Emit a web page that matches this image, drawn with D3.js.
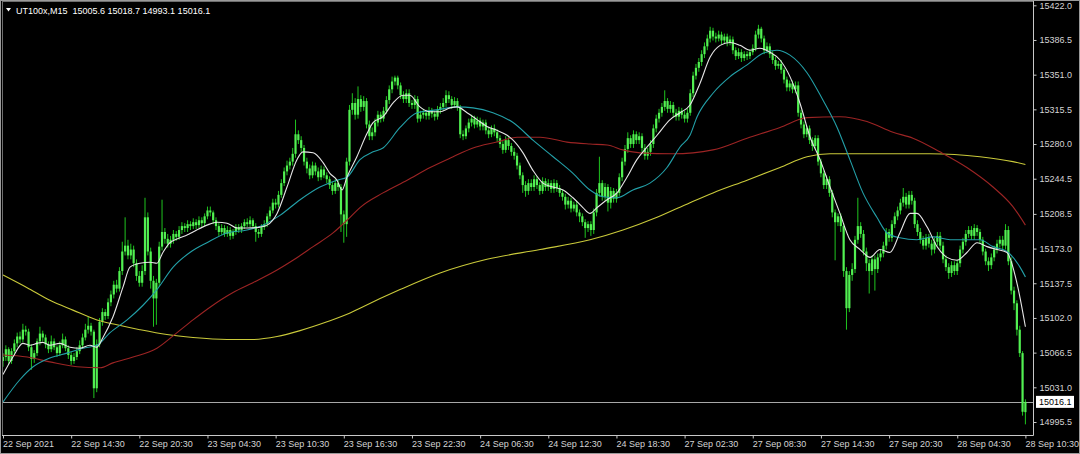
<!DOCTYPE html>
<html><head><meta charset="utf-8">
<script src="https://cdn.jsdelivr.net/npm/d3@7"></script>
<style>html,body{margin:0;padding:0;background:#000;overflow:hidden}svg{display:block}</style>
</head><body>
<svg id="chart" width="1080" height="454"></svg>
<script>
const symbolTitle = "UT100x,M15";
const lastOHLC = [15005.6, 15018.7, 14993.1, 15016.1];
const currentPrice = 15016.1;

const opens = [
15058,15062,15070,15058,15068,15076,15083,15080,15090,15088,
15072,15060,15066,15078,15086,15082,15075,15070,15078,15072,
15066,15074,15080,15071,15064,15058,15062,15068,15074,15082,
15090,15094,15088,15030,15075,15098,15108,15104,15118,15126,
15136,15132,15150,15170,15176,15166,15172,15158,15145,15138,
15150,15205,15170,15140,15122,15138,15175,15190,15183,15178,
15182,15188,15185,15192,15196,15194,15198,15196,15200,15197,
15202,15199,15206,15212,15210,15202,15196,15190,15194,15188,
15192,15186,15190,15195,15192,15196,15200,15198,15202,15196,
15190,15188,15195,15198,15206,15212,15220,15218,15228,15240,
15252,15258,15262,15270,15290,15284,15276,15262,15255,15248,
15258,15252,15246,15254,15248,15244,15238,15232,15240,15236,
15208,15198,15262,15315,15322,15310,15326,15318,15324,15300,
15288,15292,15302,15310,15306,15314,15325,15336,15344,15348,
15340,15330,15326,15332,15322,15320,15326,15306,15310,15312,
15309,15314,15311,15308,15315,15318,15322,15330,15326,15320,
15324,15318,15290,15288,15296,15302,15306,15300,15304,15298,
15302,15294,15290,15296,15292,15286,15280,15274,15284,15278,
15272,15268,15258,15248,15238,15232,15240,15236,15244,15238,
15232,15242,15236,15240,15234,15240,15235,15230,15226,15218,
15222,15214,15218,15210,15206,15200,15194,15198,15192,15210,
15230,15240,15226,15236,15220,15232,15224,15230,15246,15262,
15275,15286,15280,15290,15284,15288,15276,15268,15272,15280,
15296,15306,15312,15318,15324,15316,15320,15312,15308,15314,
15310,15306,15312,15332,15350,15358,15364,15372,15380,15388,
15396,15390,15388,15392,15386,15390,15384,15387,15376,15370,
15374,15368,15372,15370,15374,15378,15392,15398,15388,15376,
15380,15372,15366,15360,15362,15356,15346,15338,15342,15336,
15340,15312,15300,15290,15296,15284,15278,15286,15262,15250,
15238,15244,15230,15210,15200,15206,15196,15150,15112,15146,
15152,15182,15196,15188,15170,15158,15150,15162,15152,15164,
15168,15176,15190,15184,15198,15206,15212,15220,15226,15218,
15228,15222,15198,15190,15182,15176,15184,15178,15172,15180,
15186,15176,15162,15154,15148,15156,15150,15158,15172,15180,
15188,15192,15186,15194,15190,15182,15170,15160,15156,15164,
15172,15178,15182,15176,15192,15160,15130,15117,15090,15066,15005.6
];
const highs = [
15066,15074,15072,15071,15080,15087,15088,15096,15094,15091,
15075,15069,15081,15093,15089,15085,15078,15084,15081,15074,
15078,15086,15083,15074,15067,15066,15072,15079,15086,15096,
15103,15097,15090,15080,15102,15112,15111,15122,15130,15140,
15141,15154,15180,15205,15182,15178,15176,15162,15150,15156,
15225,15210,15174,15145,15142,15180,15223,15194,15188,15186,
15192,15191,15196,15200,15199,15202,15201,15204,15203,15206,
15205,15209,15216,15216,15212,15205,15199,15198,15197,15196,
15195,15193,15198,15198,15199,15203,15204,15206,15204,15199,
15193,15198,15202,15209,15216,15224,15224,15232,15244,15256,
15263,15266,15276,15305,15294,15288,15279,15266,15259,15262,
15261,15256,15258,15257,15251,15247,15241,15244,15243,15239,
15212,15266,15320,15332,15327,15339,15330,15329,15327,15304,
15297,15306,15314,15313,15318,15329,15340,15349,15350,15350,
15343,15334,15336,15336,15325,15330,15329,15314,15316,15315,
15318,15317,15314,15319,15322,15327,15335,15334,15329,15328,
15327,15320,15294,15299,15306,15310,15309,15308,15307,15305,
15305,15297,15299,15300,15295,15289,15283,15288,15287,15281,
15276,15271,15261,15251,15242,15244,15244,15248,15247,15241,
15246,15245,15244,15243,15244,15243,15238,15233,15229,15226,
15225,15221,15222,15213,15209,15203,15201,15201,15214,15234,
15267,15243,15240,15239,15236,15235,15234,15250,15266,15279,
15292,15289,15294,15293,15292,15291,15280,15276,15284,15300,
15310,15316,15322,15335,15327,15324,15323,15316,15318,15317,
15314,15316,15336,15354,15362,15368,15376,15384,15392,15400,
15399,15394,15396,15395,15393,15393,15391,15390,15379,15378,
15377,15375,15375,15377,15382,15396,15402,15400,15391,15384,
15383,15375,15369,15365,15366,15358,15349,15345,15345,15344,
15344,15315,15303,15299,15299,15287,15289,15289,15265,15253,
15248,15247,15233,15213,15209,15209,15199,15154,15150,15158,
15186,15225,15200,15192,15174,15162,15166,15166,15168,15172,
15180,15194,15193,15202,15210,15216,15224,15235,15230,15232,
15232,15225,15202,15194,15186,15188,15188,15182,15184,15190,
15190,15180,15166,15158,15160,15160,15162,15176,15184,15192,
15196,15196,15198,15197,15193,15185,15173,15164,15168,15176,
15182,15186,15186,15198,15196,15164,15134,15120,15094,15068,15018.7
];
const lows = [
15052,15058,15054,15055,15064,15072,15076,15077,15084,15068,
15049,15056,15063,15074,15078,15071,15066,15067,15069,15062,
15063,15071,15068,15060,15054,15055,15059,15065,15071,15079,
15086,15084,15020,15026,15072,15094,15100,15101,15114,15122,
15128,15129,15146,15166,15162,15162,15154,15140,15134,15134,
15146,15166,15132,15093,15095,15134,15171,15178,15174,15174,
15178,15181,15182,15188,15190,15190,15192,15193,15193,15194,
15195,15196,15203,15206,15198,15192,15186,15187,15185,15185,
15182,15183,15187,15189,15189,15193,15195,15195,15193,15180,
15184,15185,15192,15195,15203,15209,15214,15215,15225,15237,
15248,15254,15258,15266,15280,15272,15258,15250,15244,15245,
15248,15242,15243,15245,15240,15234,15228,15229,15232,15190,
15179,15185,15258,15310,15305,15306,15313,15314,15296,15284,
15284,15288,15298,15302,15303,15311,15321,15332,15340,15336,
15326,15322,15322,15318,15316,15316,15302,15303,15306,15305,
15305,15307,15304,15305,15311,15314,15318,15322,15316,15317,
15314,15286,15284,15285,15292,15298,15296,15297,15294,15294,
15290,15286,15287,15288,15282,15276,15270,15271,15274,15268,
15264,15254,15244,15230,15226,15228,15232,15232,15234,15228,
15229,15232,15232,15230,15230,15231,15226,15222,15213,15214,
15210,15211,15206,15200,15196,15184,15190,15186,15188,15206,
15226,15222,15222,15211,15214,15220,15220,15227,15242,15258,
15271,15276,15276,15280,15280,15272,15264,15264,15268,15276,
15292,15302,15308,15314,15312,15312,15308,15304,15304,15306,
15302,15302,15309,15328,15346,15354,15360,15368,15376,15384,
15386,15384,15385,15382,15383,15380,15381,15372,15366,15367,
15364,15365,15366,15367,15371,15375,15388,15384,15372,15373,
15368,15362,15356,15357,15352,15342,15334,15334,15332,15332,
15308,15296,15286,15287,15280,15273,15275,15258,15246,15234,
15234,15226,15205,15161,15196,15190,15144,15090,15108,15140,
15148,15178,15184,15166,15150,15127,15146,15130,15148,15160,
15164,15172,15180,15180,15194,15202,15208,15216,15214,15214,
15218,15194,15186,15178,15172,15172,15174,15166,15168,15176,
15172,15158,15150,15142,15144,15146,15146,15154,15168,15176,
15184,15182,15182,15186,15178,15166,15156,15150,15152,15160,
15168,15174,15172,15172,15156,15126,15110,15084,15062,15002,14993.1
];
const closes = [
15062,15070,15058,15068,15076,15083,15080,15090,15088,15072,
15060,15066,15078,15086,15082,15075,15070,15078,15072,15066,
15074,15080,15071,15064,15058,15062,15068,15074,15082,15090,
15094,15088,15030,15075,15098,15108,15104,15118,15126,15136,
15132,15150,15170,15176,15166,15172,15158,15145,15138,15150,
15205,15170,15140,15122,15138,15175,15190,15183,15178,15182,
15188,15185,15192,15196,15194,15198,15196,15200,15197,15202,
15199,15206,15212,15210,15202,15196,15190,15194,15188,15192,
15186,15190,15195,15192,15196,15200,15198,15202,15196,15190,
15188,15195,15198,15206,15212,15220,15218,15228,15240,15252,
15258,15262,15270,15290,15284,15276,15262,15255,15248,15258,
15252,15246,15254,15248,15244,15238,15232,15240,15236,15208,
15198,15262,15315,15322,15310,15326,15318,15324,15300,15288,
15292,15302,15310,15306,15314,15325,15336,15344,15348,15340,
15330,15326,15332,15322,15320,15326,15306,15310,15312,15309,
15314,15311,15308,15315,15318,15322,15330,15326,15320,15324,
15318,15290,15288,15296,15302,15306,15300,15304,15298,15302,
15294,15290,15296,15292,15286,15280,15274,15284,15278,15272,
15268,15258,15248,15238,15232,15240,15236,15244,15238,15232,
15242,15236,15240,15234,15240,15235,15230,15226,15218,15222,
15214,15218,15210,15206,15200,15194,15198,15192,15210,15230,
15240,15226,15236,15220,15232,15224,15230,15246,15262,15275,
15286,15280,15290,15284,15288,15276,15268,15272,15280,15296,
15306,15312,15318,15324,15316,15320,15312,15308,15314,15310,
15306,15312,15332,15350,15358,15364,15372,15380,15388,15396,
15390,15388,15392,15386,15390,15384,15387,15376,15370,15374,
15368,15372,15370,15374,15378,15392,15398,15388,15376,15380,
15372,15366,15360,15362,15356,15346,15338,15342,15336,15340,
15312,15300,15290,15296,15284,15278,15286,15262,15250,15238,
15244,15230,15210,15200,15206,15196,15150,15112,15146,15152,
15182,15196,15188,15170,15158,15150,15162,15152,15164,15168,
15176,15190,15184,15198,15206,15212,15220,15226,15218,15228,
15222,15198,15190,15182,15176,15184,15178,15172,15180,15186,
15176,15162,15154,15148,15156,15150,15158,15172,15180,15188,
15192,15186,15194,15190,15182,15170,15160,15156,15164,15172,
15178,15182,15176,15192,15160,15130,15117,15090,15066,15006,15016.1
];

// moving averages: [bar index, price]
const maFast = [[0,15044],[3.5,15062],[7,15076],[9.5,15074],[12,15076],[14,15077],[16.5,15074],[20,15076],[23.6,15072],[27,15071],[30.6,15074],[33,15072],[35.2,15082],[38.7,15103],[42.3,15134],[44.7,15154],[48.2,15158],[51.8,15159],[54.2,15158],[56.3,15169],[58.8,15179],[62.3,15184],[64.8,15187],[66.9,15190],[71.8,15197],[75.4,15200],[78.9,15199],[82.4,15194],[85.9,15194],[90.5,15195],[93,15197],[96.5,15209],[100,15236],[103.5,15264],[105.6,15272],[109.2,15271],[112.7,15261],[115.1,15250],[117.6,15243],[119.4,15233],[121.1,15246],[124.6,15267],[128.2,15291],[130.3,15302],[133.8,15308],[137.3,15322],[140.8,15330],[143.3,15330],[146.8,15318],[150.4,15313],[153.9,15313],[157.4,15317],[159.9,15318],[163.4,15312],[166.9,15305],[170.4,15298],[173.9,15294],[177.5,15289],[179.6,15284],[183.1,15271],[186.6,15253],[190.1,15240],[193.7,15236],[197.2,15233],[200.7,15225],[204.2,15215],[206.7,15209],[209.2,15215],[212.7,15223],[216.2,15230],[219.7,15246],[223.2,15264],[226.8,15277],[230.3,15289],[234.9,15305],[238.4,15312],[241.9,15320],[245.4,15342],[249,15369],[252.5,15381],[256,15384],[259.5,15381],[263,15376],[266.5,15378],[270.1,15374],[273.6,15366],[277.1,15349],[280.6,15322],[284.2,15287],[287.7,15264],[291.2,15236],[294.7,15209],[298.2,15182],[301.8,15172],[305.3,15164],[308.8,15172],[312.3,15169],[315.8,15189],[319.4,15209],[321.8,15209],[325.4,15195],[328.9,15175],[332.4,15164],[335.9,15161],[339.4,15169],[343,15179],[346.5,15175],[350,15172],[353.5,15169],[357,15138],[360,15093]];
const maMid = [[0,15016],[6,15039],[10.6,15052],[16.5,15061],[22.5,15066],[28.2,15071],[33.1,15074],[37.7,15087],[43.7,15100],[49.3,15115],[54.2,15131],[59.9,15154],[65.8,15169],[71.8,15179],[78.9,15189],[85.9,15192],[91.5,15197],[97.5,15207],[104.6,15223],[111.6,15236],[117.6,15243],[121.1,15246],[125.7,15264],[130.3,15272],[133.8,15276],[139.8,15297],[145.8,15312],[152.8,15315],[159.9,15318],[165.5,15317],[172.5,15312],[179.6,15302],[186.6,15284],[193.7,15267],[200.7,15250],[206.7,15233],[211.3,15226],[216.2,15225],[221.8,15233],[227.8,15240],[233.8,15256],[238.4,15277],[241.9,15289],[244.4,15308],[250,15332],[256,15349],[262,15361],[267.6,15373],[272.5,15376],[277.1,15371],[283.1,15353],[288.7,15325],[293.7,15297],[298.2,15264],[302.8,15230],[307.7,15205],[311.3,15189],[315.8,15184],[321.8,15182],[327.5,15185],[333.5,15182],[339.4,15182],[344,15182],[348.6,15175],[353.5,15170],[358.1,15154],[360,15144]];
const maSlow = [[0,15064],[8.5,15062],[16.5,15057],[26.1,15052],[34.2,15051],[38.7,15056],[45.8,15062],[54.2,15071],[61.3,15087],[66.9,15100],[72.9,15113],[81,15128],[88,15138],[96.5,15151],[102.1,15161],[109.2,15175],[116.2,15189],[122.2,15205],[125.7,15215],[133.8,15230],[142.3,15243],[150.4,15256],[158.5,15267],[165.5,15276],[173.9,15282],[181,15287],[189.1,15287],[198.6,15282],[206.7,15280],[212.7,15279],[218.3,15274],[224.3,15271],[235.9,15270],[250,15274],[262,15286],[273.6,15297],[283.1,15307],[294.7,15308],[304.2,15303],[313.4,15292],[320.4,15286],[329.9,15272],[339.4,15256],[348.6,15236],[355.6,15216],[360,15197]];
const maLong = [[0,15146],[8.5,15133],[16.5,15120],[24.6,15110],[33.1,15100],[40.1,15095],[48.2,15090],[57.7,15085],[66.9,15082],[78.9,15080],[88,15080],[96.5,15083],[104.6,15089],[114.1,15098],[122.2,15107],[125.7,15112],[139.8,15131],[153.9,15148],[170.4,15162],[189.1,15172],[206.7,15182],[218.3,15192],[230.3,15205],[241.9,15220],[250,15230],[262,15243],[273.6,15256],[283.1,15267],[291.2,15270],[308.8,15270],[326.4,15270],[344,15267],[355.6,15262],[360,15259]];

const priceTicks = [15422.0,15386.5,15351.0,15315.5,15280.0,15244.5,15208.5,15173.0,15137.5,15102.0,15066.5,15031.0,14995.5];
const timeTickBars = [0,24,48,72,96,120,144,168,192,216,240,264,288,312,336,360];
const timeTickLabels = ["22 Sep 2021","22 Sep 14:30","22 Sep 20:30","23 Sep 04:30","23 Sep 10:30","23 Sep 16:30","23 Sep 22:30","24 Sep 06:30","24 Sep 12:30","24 Sep 18:30","27 Sep 02:30","27 Sep 08:30","27 Sep 14:30","27 Sep 20:30","28 Sep 04:30","28 Sep 10:30"];

const svg = d3.select("#chart");
const FONT = "'Liberation Sans', Arial, sans-serif";
const plotR = 1033, plotB = 435;

const x = d3.scaleLinear().domain([0, 360]).range([3, 3 + 360 * 2.84]);
const y = d3.scaleLinear().domain([14995.5, 15422]).range([422, 5.3]);

svg.append("rect").attr("width",1080).attr("height",454).attr("fill","#000");

const defs = svg.append("defs");
defs.append("clipPath").attr("id","plotclip").append("rect")
  .attr("x",2).attr("y",2).attr("width",plotR-2).attr("height",plotB-2);

const plot = svg.append("g").attr("clip-path","url(#plotclip)");

// current price line
plot.append("line")
  .attr("x1",0).attr("x2",plotR).attr("y1",Math.round(y(currentPrice))+0.5).attr("y2",Math.round(y(currentPrice))+0.5)
  .attr("stroke","#a8a8a8").attr("stroke-width",1);

const bars = d3.range(closes.length).map(i => ({i, o:opens[i], h:highs[i], l:lows[i], c:closes[i]}));

const cg = plot.append("g");
cg.selectAll("line.wick").data(bars).join("line").attr("class","wick")
  .attr("x1",d=>x(d.i)).attr("x2",d=>x(d.i))
  .attr("y1",d=>y(d.h)).attr("y2",d=>y(d.l))
  .attr("stroke","#1fc41f").attr("stroke-width",1);
cg.selectAll("rect.body").data(bars).join("rect").attr("class","body")
  .attr("x",d=>x(d.i)-1.1).attr("width",2.2)
  .attr("y",d=>y(Math.max(d.o,d.c)))
  .attr("height",d=>Math.max(1, y(Math.min(d.o,d.c)) - y(Math.max(d.o,d.c))))
  .attr("fill","#52f052");

const line = d3.line().x(d=>x(d[0])).y(d=>y(d[1])).curve(d3.curveMonotoneX);
const mas = [
  {data: maLong, color:"#c9c93a"},
  {data: maSlow, color:"#9c2424"},
  {data: maMid,  color:"#23a0a8"},
  {data: maFast, color:"#e6e6e6"}
];
plot.selectAll("path.ma").data(mas).join("path").attr("class","ma")
  .attr("d",d=>line(d.data)).attr("fill","none")
  .attr("stroke",d=>d.color).attr("stroke-width",1.1);

// frame
svg.append("rect").attr("x",0.5).attr("y",0.5).attr("width",1079).attr("height",453)
  .attr("fill","none").attr("stroke","#9a9a9a");
svg.append("line").attr("x1",2.5).attr("x2",2.5).attr("y1",1).attr("y2",plotB)
  .attr("stroke","#6e6e6e");
svg.append("line").attr("x1",2).attr("x2",plotR).attr("y1",1.5).attr("y2",1.5)
  .attr("stroke","#6e6e6e");

// right price axis
const yAxis = d3.axisRight(y).tickValues(priceTicks).tickFormat(d3.format(".1f"))
  .tickSize(3).tickSizeOuter(0).tickPadding(3);
const ya = svg.append("g").attr("transform",`translate(${plotR+0.5},0)`).call(yAxis);
ya.select(".domain").remove();
ya.selectAll("line").attr("stroke","#c8c8c8");
ya.selectAll("text").attr("fill","#d4d4d4").attr("font-family",FONT).attr("font-size","9px");
svg.append("line").attr("x1",plotR+0.5).attr("x2",plotR+0.5).attr("y1",1).attr("y2",plotB+0.5)
  .attr("stroke","#c8c8c8");

// bottom time axis
const xAxis = d3.axisBottom(x).tickValues(timeTickBars).tickFormat((d,i)=>timeTickLabels[i])
  .tickSize(3).tickSizeOuter(0).tickPadding(2);
const xa = svg.append("g").attr("transform",`translate(0,${plotB+0.5})`).call(xAxis);
xa.select(".domain").remove();
xa.selectAll("line").attr("stroke","#c8c8c8");
xa.selectAll("text").attr("fill","#d4d4d4").attr("font-family",FONT).attr("font-size","9px")
  .attr("text-anchor","start").attr("dx","-0.5");
svg.append("line").attr("x1",2).attr("x2",plotR+0.5).attr("y1",plotB+0.5).attr("y2",plotB+0.5)
  .attr("stroke","#c8c8c8");

// current price label
const cy = y(currentPrice);
svg.append("rect").attr("x",1036).attr("y",cy-6).attr("width",38).attr("height",12)
  .attr("fill","#ffffff");
svg.append("text").attr("x",1039).attr("y",cy).attr("dy","0.35em")
  .attr("font-family",FONT).attr("font-size","9px").attr("fill","#000")
  .text(d3.format(".1f")(currentPrice));

// title
svg.append("path").attr("d","M6,8 L11,8 L8.5,11.5 Z").attr("fill","#ffffff");
svg.append("text").attr("x",16).attr("y",13.5)
  .attr("font-family",FONT).attr("font-size","9px").attr("fill","#ffffff")
  .attr("xml:space","preserve")
  .text(symbolTitle + "  " + lastOHLC.map(d3.format(".1f")).join(" "));
</script>
</body></html>
